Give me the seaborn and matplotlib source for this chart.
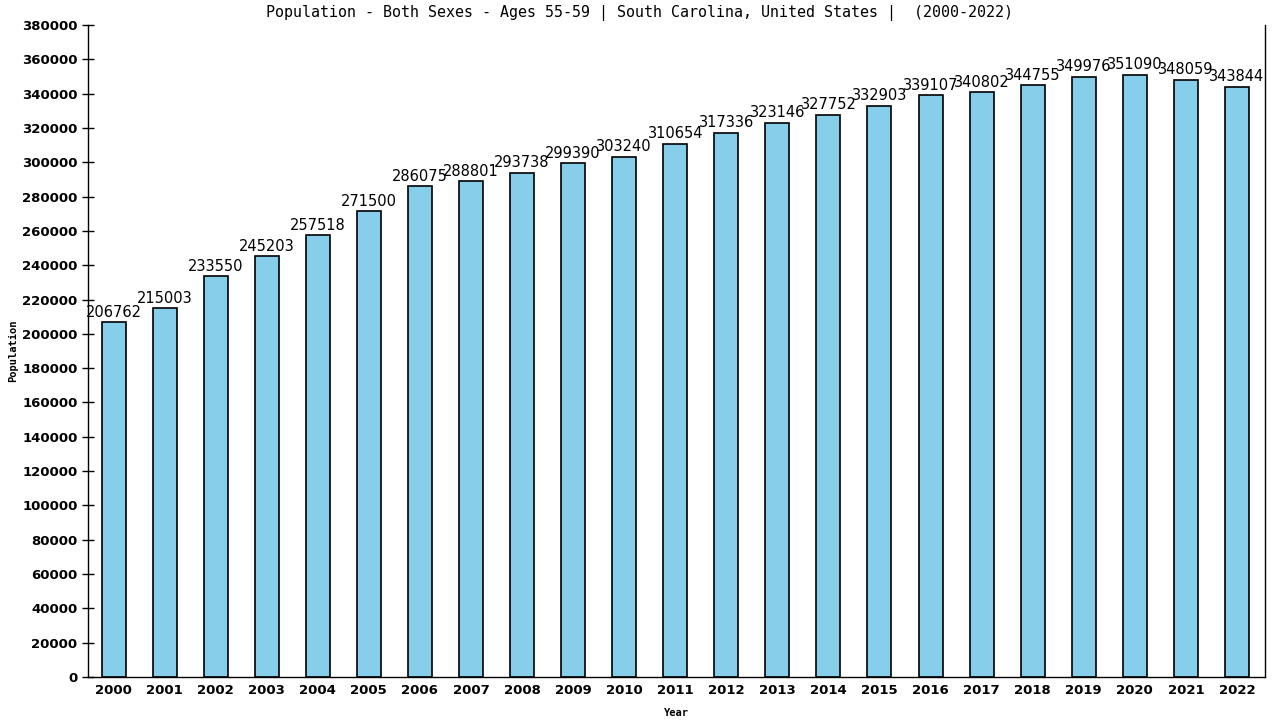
import matplotlib
matplotlib.use("Agg")
import matplotlib.pyplot as plt
import seaborn as sns
import pandas as pd

years = [str(y) for y in range(2000, 2023)]
population = [206762, 215003, 233550, 245203, 257518, 271500, 286075, 288801, 293738,
              299390, 303240, 310654, 317336, 323146, 327752, 332903, 339107, 340802,
              344755, 349976, 351090, 348059, 343844]

sns.set_style("white")
plt.rcParams['font.family'] = ['DejaVu Sans Mono', 'DejaVu Sans']
plt.rcParams['text.color'] = 'black'
plt.rcParams['axes.labelcolor'] = 'black'
plt.rcParams['xtick.color'] = 'black'
plt.rcParams['ytick.color'] = 'black'

df = pd.DataFrame({"Year": years, "Population": population})

fig = plt.figure(figsize=(12.8, 7.2), dpi=100)
ax = fig.add_axes([0.06875, 0.0597, 0.9195, 0.9056])

sns.barplot(data=df, x="Year", y="Population", color="#87CEEB", width=0.47,
            edgecolor="black", linewidth=1.2, saturation=1, ax=ax)

for i, v in enumerate(population):
    ax.text(i, v + 1500, str(v), ha="center", va="bottom", fontsize=10.5,
            family="DejaVu Sans", color="black")

ax.set_ylim(0, 380000)
ax.set_xlim(-0.5, 22.55)
ax.set_yticks(range(0, 380001, 20000))
ax.set_yticklabels([str(t) for t in range(0, 380001, 20000)], fontsize=9.5,
                   fontweight="bold", family="DejaVu Sans")
ax.set_xticklabels(years, fontsize=9.5, fontweight="bold", family="DejaVu Sans")
ax.tick_params(axis="y", which="both", left=True, length=9, width=1, direction="inout", pad=3)
ax.tick_params(axis="x", length=0, pad=5)

ax.spines["top"].set_visible(False)
for s in ["left", "bottom", "right"]:
    ax.spines[s].set_color("black")
    ax.spines[s].set_linewidth(1)

ax.set_xlabel("Year", fontsize=7.5, fontweight="bold", labelpad=8)
ax.set_ylabel("Population", fontsize=7.5, fontweight="bold", labelpad=3)
fig.suptitle("Population - Both Sexes - Ages 55-59 | South Carolina, United States |  (2000-2022)",
             x=0.5, y=0.993, va="top", fontsize=10.8, color="black")

fig.savefig("out.png", dpi=100)
